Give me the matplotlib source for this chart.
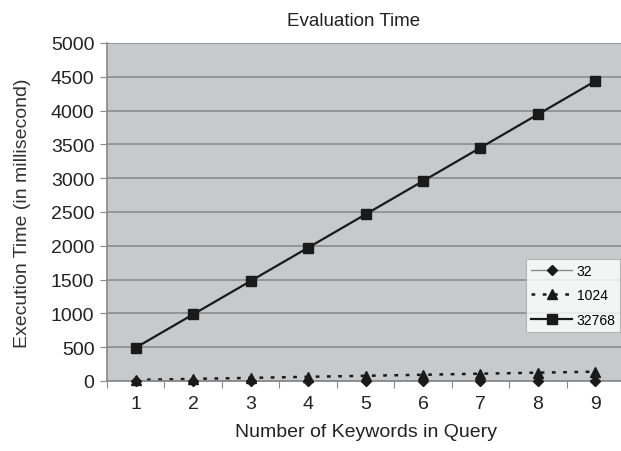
import numpy as np
import matplotlib
matplotlib.use('Agg')
import matplotlib.pyplot as plt

plt.rcParams['font.family'] = ['Liberation Sans', 'DejaVu Sans']

keywords = [1, 2, 3, 4, 5, 6, 7, 8, 9]
t32 = [0.5, 1, 1.5, 2, 2.5, 3, 3.5, 4, 4.5]
t1024 = [15, 31, 46, 62, 77, 92, 108, 123, 138]
t32768 = [493, 986, 1479, 1972, 2465, 2958, 3451, 3944, 4437]

fig = plt.figure(figsize=(6.21, 4.52), dpi=100)
ax = fig.add_axes([0.1723, 0.1549, 0.8327, 0.7478])
ax.set_facecolor('#c8c9cb')

ax.plot(keywords, t1024, color='#1a1a1a', lw=1.8, ls=(0, (1.5, 3)), marker='^', ms=7,
        mfc='#1a1a1a', mec='#1a1a1a', label='1024', clip_on=False, zorder=3)
ax.plot(keywords, t32768, color='#1a1a1a', lw=1.6, marker='s', ms=7,
        mfc='#1a1a1a', mec='#1a1a1a', label='32768', clip_on=False, zorder=3)
ax.plot(keywords, t32, color='#8a8a8a', lw=1, marker='D', ms=5.5,
        mfc='#1a1a1a', mec='#1a1a1a', label='32', clip_on=False, zorder=4)

ax.set_xlim(0.5, 9.5)
ax.set_ylim(0, 5000)
ax.set_yticks(np.arange(0, 5001, 500))
ax.yaxis.grid(True, color='#8c8c8c', lw=1.2)
ax.set_axisbelow(True)
ax.set_xticks(np.arange(0.5, 9.6, 1))
ax.set_xticklabels([])
ax.set_xticks(keywords, minor=True)
ax.set_xticklabels([str(k) for k in keywords], minor=True)
ax.tick_params(axis='x', which='minor', length=0, pad=10, labelsize=14, labelcolor='#222222')
ax.tick_params(axis='x', which='major', length=5, color='#888888')
ax.tick_params(axis='y', length=5, color='#888888', labelsize=14, labelcolor='#222222', pad=4)

for s in ['top', 'right']:
    ax.spines[s].set_visible(False)
ax.spines['left'].set_color('#888888')
ax.spines['bottom'].set_color('#888888')
ax.spines['left'].set_linewidth(1.2)
ax.spines['bottom'].set_linewidth(1.2)

ax.set_xlabel('Number of Keywords in Query', fontsize=14, color='#222222', labelpad=8)
ax.set_ylabel('Execution Time (in millisecond)', fontsize=14, color='#333333', labelpad=14)
fig.text(0.569, 0.953, 'Evaluation Time', ha='center', va='center', fontsize=13.5, color='#222222')

h, l = ax.get_legend_handles_labels()
order = [2, 0, 1]
leg = ax.legend([h[i] for i in order], [l[i] for i in order],
                loc='upper left', bbox_to_anchor=(0.81, 0.361), fontsize=10,
                frameon=True, fancybox=False, handlelength=3.0, handletextpad=0.3,
                borderpad=0.35, labelspacing=0.75, borderaxespad=0)
leg.get_frame().set_edgecolor('#aaaaaa')
leg.get_frame().set_linewidth(0.8)

fig.savefig('out.png', dpi=100)
